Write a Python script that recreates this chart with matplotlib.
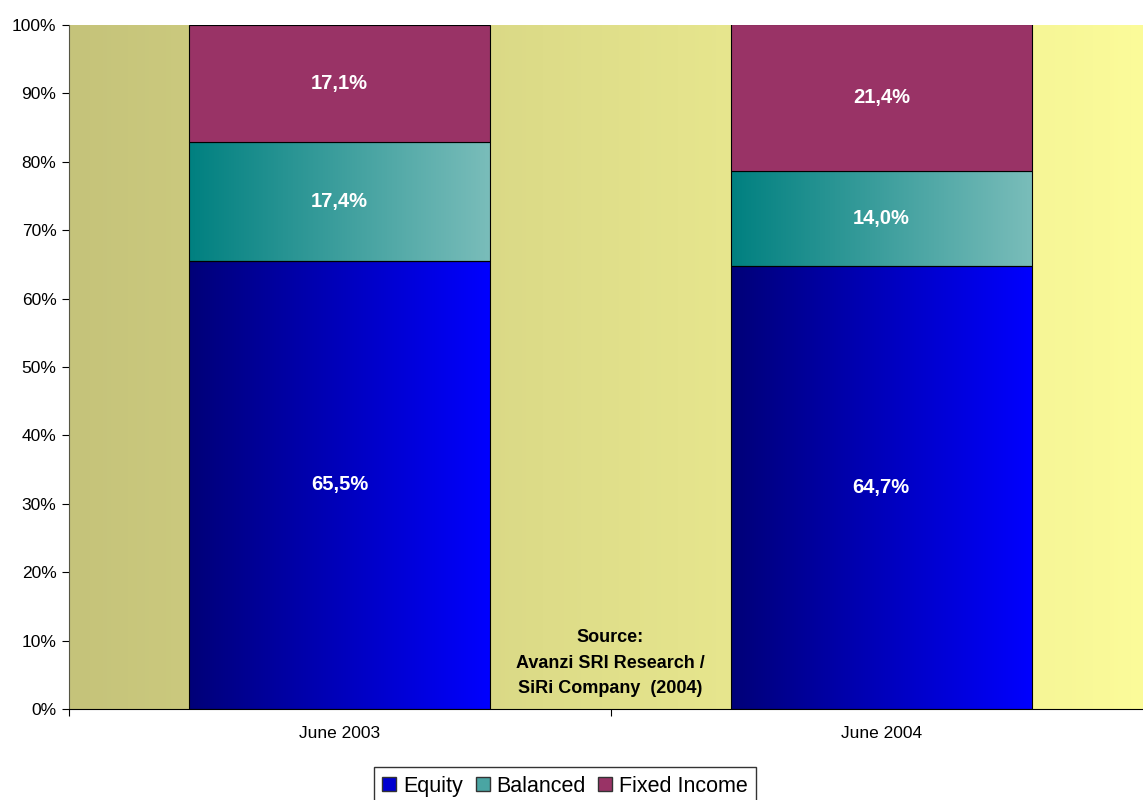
import numpy as np
import matplotlib
matplotlib.use("Agg")
import matplotlib.pyplot as plt
from matplotlib.colors import LinearSegmentedColormap
from matplotlib.patches import Patch

plt.rcParams["font.family"] = ["Liberation Sans", "DejaVu Sans"]

# ── Data ──────────────────────────────────────────────────────────────────────
categories   = ["June 2003", "June 2004"]
equity       = [65.5, 64.7]
balanced     = [17.4, 14.0]
fixed_income = [17.1, 21.4]
series_names = ["Equity", "Balanced", "Fixed Income"]
source_text  = "Source:\nAvanzi SRI Research /\nSiRi Company  (2004)"

# ── Style ─────────────────────────────────────────────────────────────────────
BG_LEFT, BG_RIGHT = "#C5C37A", "#FCFC9A"
EQ_GRAD  = ("#000078", "#0000FF")
BAL_GRAD = ("#008080", "#7ABDBA")
FIX_COL  = "#993366"

fig = plt.figure(figsize=(11.43, 8), dpi=100)
ax = fig.add_axes([69 / 1143, 91 / 800, 1083 / 1143, 684 / 800])

x = np.arange(len(categories))

# background gradient
bg = LinearSegmentedColormap.from_list("bg", [BG_LEFT, BG_RIGHT])
ax.imshow(np.linspace(0, 1, 256)[None, :], cmap=bg, aspect="auto",
          extent=(-0.5, 1.5, 0, 100), zorder=0)

w = 0.556
b_eq = ax.bar(x, equity, w, color="none", edgecolor="black", lw=0.8, zorder=3)
b_bal = ax.bar(x, balanced, w, bottom=equity, color="none", edgecolor="black",
               lw=0.8, zorder=3)
bottom_fix = np.array(equity) + np.array(balanced)
b_fix = ax.bar(x, fixed_income, w, bottom=bottom_fix, color=FIX_COL,
               edgecolor="black", lw=0.8, zorder=3)


def grad_fill(bars, cols):
    cm = LinearSegmentedColormap.from_list("g", list(cols))
    for bar in bars:
        x0, y0 = bar.get_x(), bar.get_y()
        im = ax.imshow(np.linspace(0, 1, 256)[None, :], cmap=cm, aspect="auto",
                       extent=(x0, x0 + bar.get_width(), y0, y0 + bar.get_height()),
                       zorder=2)
        im.set_clip_path(bar)


grad_fill(b_eq, EQ_GRAD)
grad_fill(b_bal, BAL_GRAD)
ax.set_xlim(-0.5, 1.5)
ax.set_ylim(0, 100)

# value labels
for bars in (b_eq, b_bal, b_fix):
    for bar in bars:
        h = bar.get_height()
        ax.text(bar.get_x() + bar.get_width() / 2, bar.get_y() + h / 2,
                f"{h:.1f}%".replace(".", ","), ha="center", va="center",
                color="white", fontsize=14.5, fontweight="bold", zorder=5)

ax.text(0.5, 6.7, source_text, ha="center", va="center", fontsize=13,
        fontweight="bold", linespacing=1.65, zorder=5)

# axes
ax.set_yticks(np.arange(0, 101, 10))
ax.set_yticklabels([f"{v}%" for v in range(0, 101, 10)], fontsize=12.5)
ax.set_xticks([-0.5, 0.5, 1.5])
ax.set_xticklabels([])
ax.set_xticks(x, minor=True)
ax.set_xticklabels(categories, minor=True, fontsize=12.5)
ax.tick_params(axis="x", which="minor", length=0, pad=12)
ax.tick_params(axis="x", which="major", length=5, direction="out")
ax.tick_params(axis="y", length=5, direction="out", pad=4)
for s in ("top", "right"):
    ax.spines[s].set_visible(False)
ax.spines["left"].set_color("#555544")

handles = [Patch(facecolor="#0000D0", edgecolor="#333333"),
           Patch(facecolor="#4AA5A3", edgecolor="#333333"),
           Patch(facecolor=FIX_COL, edgecolor="#333333")]
leg = fig.legend(handles, series_names, loc="upper center",
                 bbox_to_anchor=(565 / 1143, 1 - 767 / 800), ncol=3,
                 fontsize=15.5, frameon=True, fancybox=False, edgecolor="black",
                 handlelength=0.65, handleheight=0.65, handletextpad=0.3,
                 columnspacing=0.6, borderpad=0.4, borderaxespad=0)
leg.get_frame().set_linewidth(1.0)

fig.savefig("out.png", dpi=100)
